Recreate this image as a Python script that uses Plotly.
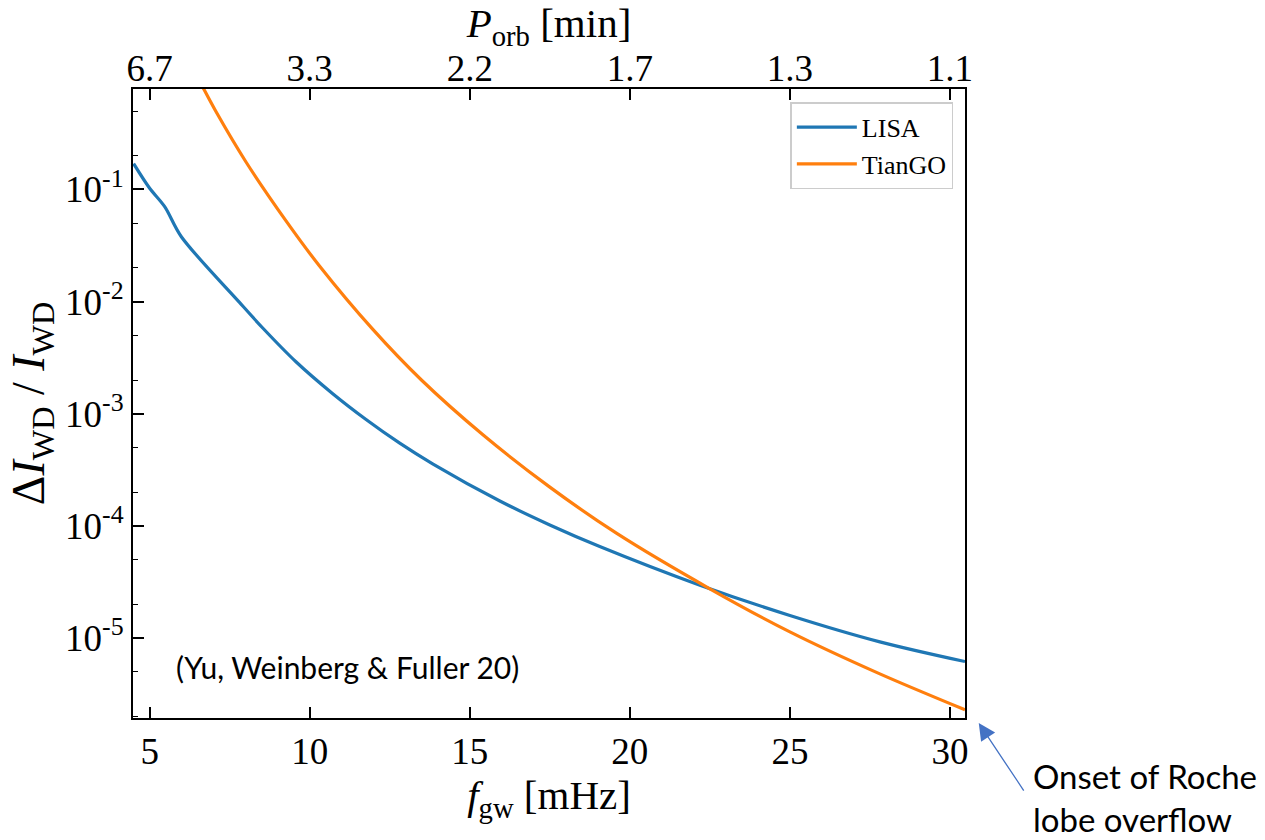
import plotly.graph_objects as go

# ---- data ----
f_lisa = [4.50, 5.00, 5.47, 5.99, 7.80, 8.54, 9.57, 10.72, 11.76, 12.80, 13.84,
          15.94, 17.50, 19.06, 22.19, 25.00, 27.81, 30.47]
dI_lisa = [0.170, 0.1026, 0.0703, 0.0379, 0.00989, 0.00579, 0.00291, 1.51e-3,
           8.89e-4, 5.50e-4, 3.58e-4, 1.667e-4, 1.02e-4, 6.55e-5, 2.96e-5,
           1.59e-5, 9.25e-6, 6.17e-6]

f_tiango = [6.50, 6.69, 7.08, 8.02, 9.26, 10.30, 11.98, 13.49, 15.42, 17.48,
            19.58, 22.50, 25.00, 27.81, 30.47]
dI_tiango = [1.00, 0.787, 0.490, 0.174, 0.0525, 0.0209, 5.62e-3, 2.00e-3,
             6.46e-4, 2.24e-4, 8.61e-5, 2.75e-5, 1.135e-5, 4.79e-6, 2.29e-6]

x_ticks = [5, 10, 15, 20, 25, 30]
x_tick_labels = ["5", "10", "15", "20", "25", "30"]
top_tick_labels = ["6.7", "3.3", "2.2", "1.7", "1.3", "1.1"]
y_ticks = [1e-5, 1e-4, 1e-3, 1e-2, 1e-1]
y_tick_labels = ["10<sup>-5</sup>", "10<sup>-4</sup>", "10<sup>-3</sup>",
                 "10<sup>-2</sup>", "10<sup>-1</sup>"]

x_range = [4.48, 30.47]
y_range_log = [-5.713, -0.104]

SERIF = "Liberation Serif"
SANS = "Lato"
TICK = 37
TITLE = 41

fig = go.Figure()
fig.add_trace(go.Scatter(x=f_lisa, y=dI_lisa, mode="lines", name="LISA",
                         line=dict(color="#1f77b4", width=3.2, shape="spline", smoothing=0.9)))
fig.add_trace(go.Scatter(x=f_tiango, y=dI_tiango, mode="lines", name="TianGO",
                         line=dict(color="#ff7f0e", width=3.2, shape="spline", smoothing=0.8)))
# invisible trace for top axis
fig.add_trace(go.Scatter(x=x_range, y=[1e-3, 1e-3], xaxis="x2", mode="lines",
                         line=dict(width=0), showlegend=False, hoverinfo="skip"))

fig.update_layout(
    width=1265, height=840,
    margin=dict(l=133, r=300, t=89, b=122),
    paper_bgcolor="white", plot_bgcolor="white",
    showlegend=True,
    legend=dict(x=0.986, y=0.979, xanchor="right", yanchor="top",
                bgcolor="white", bordercolor="#cccccc", borderwidth=1.5,
                font=dict(family=SERIF, size=26, color="black"),
                tracegroupgap=0, itemwidth=60),
    xaxis=dict(range=x_range, tickvals=x_ticks, ticktext=x_tick_labels,
               ticks="inside", ticklen=11, tickwidth=2, tickcolor="black",
               showline=True, linecolor="black", linewidth=2, mirror=True,
               showgrid=False, zeroline=False,
               tickfont=dict(family=SERIF, size=TICK, color="black"),
               title=dict(text="<i>f</i><sub>gw</sub> [mHz]", standoff=0,
                          font=dict(family=SERIF, size=TITLE, color="black"))),
    xaxis2=dict(range=x_range, overlaying="x", side="top", tickvals=x_ticks,
                ticktext=top_tick_labels, ticks="inside", ticklen=11, tickwidth=2,
                tickcolor="black", showgrid=False, zeroline=False, showline=False,
                tickfont=dict(family=SERIF, size=TICK, color="black"),
                title=dict(text="<i>P</i><sub>orb</sub> [min]", standoff=0,
                           font=dict(family=SERIF, size=TITLE, color="black"))),
    yaxis=dict(type="log", range=y_range_log, tickvals=y_ticks, ticktext=y_tick_labels,
               ticks="inside", ticklen=11, tickwidth=2, tickcolor="black",
               showline=True, linecolor="black", linewidth=2, mirror=True,
               showgrid=False, zeroline=False,
               minor=dict(ticks="inside", ticklen=5, tickwidth=1.3, tickcolor="black",
                          showgrid=False),
               tickfont=dict(family=SERIF, size=TICK, color="black"),
               title=dict(text="Δ<i>I</i><sub>WD</sub> / <i>I</i><sub>WD</sub>", standoff=6,
                          font=dict(family=SERIF, size=46, color="black"))),
)

fig.add_annotation(text="(Yu, Weinberg & Fuller 20)", xref="paper", yref="paper",
                   x=0.049, y=0.0816, xanchor="left", yanchor="middle", showarrow=False,
                   font=dict(family=SANS, size=30, color="black"))

fig.add_annotation(text="Onset of Roche<br>lobe overflow", xref="paper", yref="paper",
                   x=1.0793, y=-0.058, xanchor="left", yanchor="top", showarrow=False,
                   align="left", font=dict(family=SANS, size=33, color="black"))

fig.add_annotation(text="", xref="paper", yref="paper", x=1.0165, y=-0.008,
                   ax=46, ay=69, showarrow=True, arrowhead=2, arrowsize=2.6,
                   arrowwidth=1.3, arrowcolor="#4472C4")

fig.write_html("out.html")
